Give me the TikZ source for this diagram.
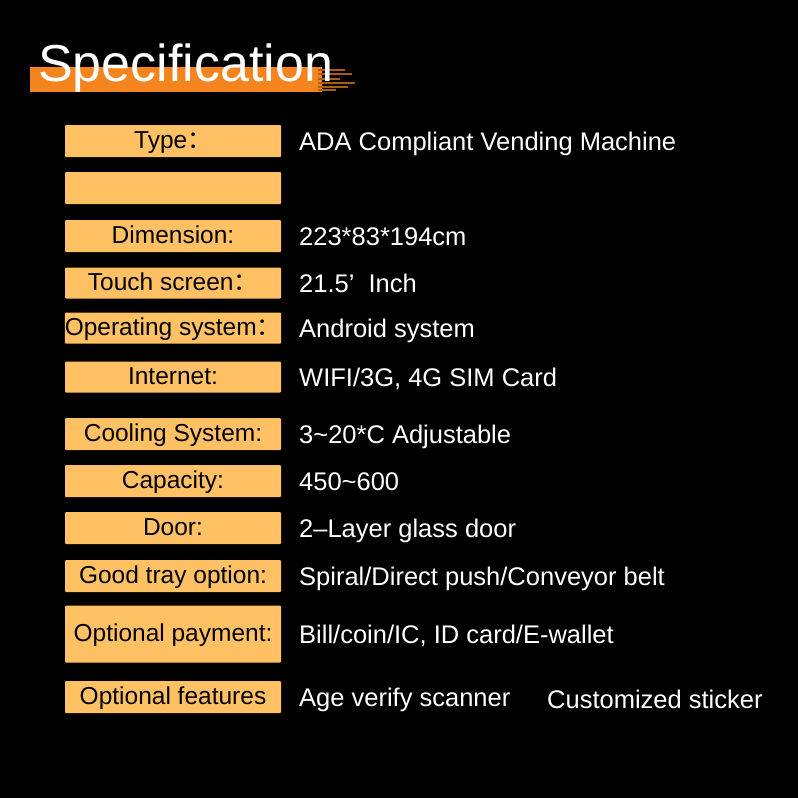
\documentclass[tikz,border=0pt]{standalone}
\usepackage{fontspec}
\setmainfont{Liberation Sans}
\newfontfamily\cjk{Noto Sans CJK SC}
\newcommand{\fwcolon}{{\cjk ：}}
\definecolor{boxfill}{HTML}{FFC163}
\definecolor{bandorange}{HTML}{F4841E}
\tikzset{%
  keybox/.style = {shape=rectangle, rounded corners=1pt, fill=boxfill,%
                   minimum width=216pt, inner sep=0pt, text=black,%
                   text height=17pt, text depth=3pt,%
                   font=\fontsize{24.5}{27}\selectfont},%
  valtext/.style = {anchor=base west, text=white, inner sep=0pt,%
                    font=\fontsize{25.5}{28}\selectfont}%
}
\begin{document}
\begin{tikzpicture}[x=1pt,y=-1pt]
	\fill [black] (0,0) rectangle (798,798);
	\useasboundingbox (0,0) rectangle (798,798);
	% title band
	\fill [bandorange] (30,67) rectangle (322,92);
	\foreach \yy/\len in {70/345,74/352,79/340,83/355,87/348,90/336}
		\draw [bandorange!70!black, line width=1.2pt] (318,\yy) -- (\len,\yy);
	\node (title) [anchor=base west, inner sep=0pt, text=white,
		font=\fontsize{52}{56}\selectfont] at (38,81) {Specification};
	% rows
	\foreach \name/\ycen/\hgt/\key/\val in {%
		type/141/32/{Type\fwcolon}/{ADA Compliant Vending Machine},
		blank/188/32/{}/{},
		dim/236/32/{Dimension:}/{223*83*194cm},
		touch/283/31/{Touch screen\fwcolon}/{21.5’\ \ Inch},
		os/328/31/{Operating system\fwcolon}/{Android system},
		net/377/31/{Internet:}/{WIFI/3G, 4G SIM Card},
		cool/434/32/{Cooling System:}/{3\textasciitilde20*C Adjustable},
		cap/481/32/{Capacity:}/{450\textasciitilde600},
		door/528/32/{Door:}/{2\textendash Layer glass door},
		tray/576/32/{Good tray option:}/{Spiral/Direct push/Conveyor belt},
		pay/634/57/{Optional payment:}/{Bill/coin/IC, ID card/E-wallet},
		feat/697/32/{Optional features}/{Age verify scanner}}
	{
		\node (\name) [keybox, minimum height=\hgt pt] at (173,\ycen) {\key};
		\node (\name-val) [valtext] at (299,\ycen+9) {\val};
	}
	\node (feat-extra) [valtext] at (547,708) {Customized sticker};
\end{tikzpicture}
\end{document}
